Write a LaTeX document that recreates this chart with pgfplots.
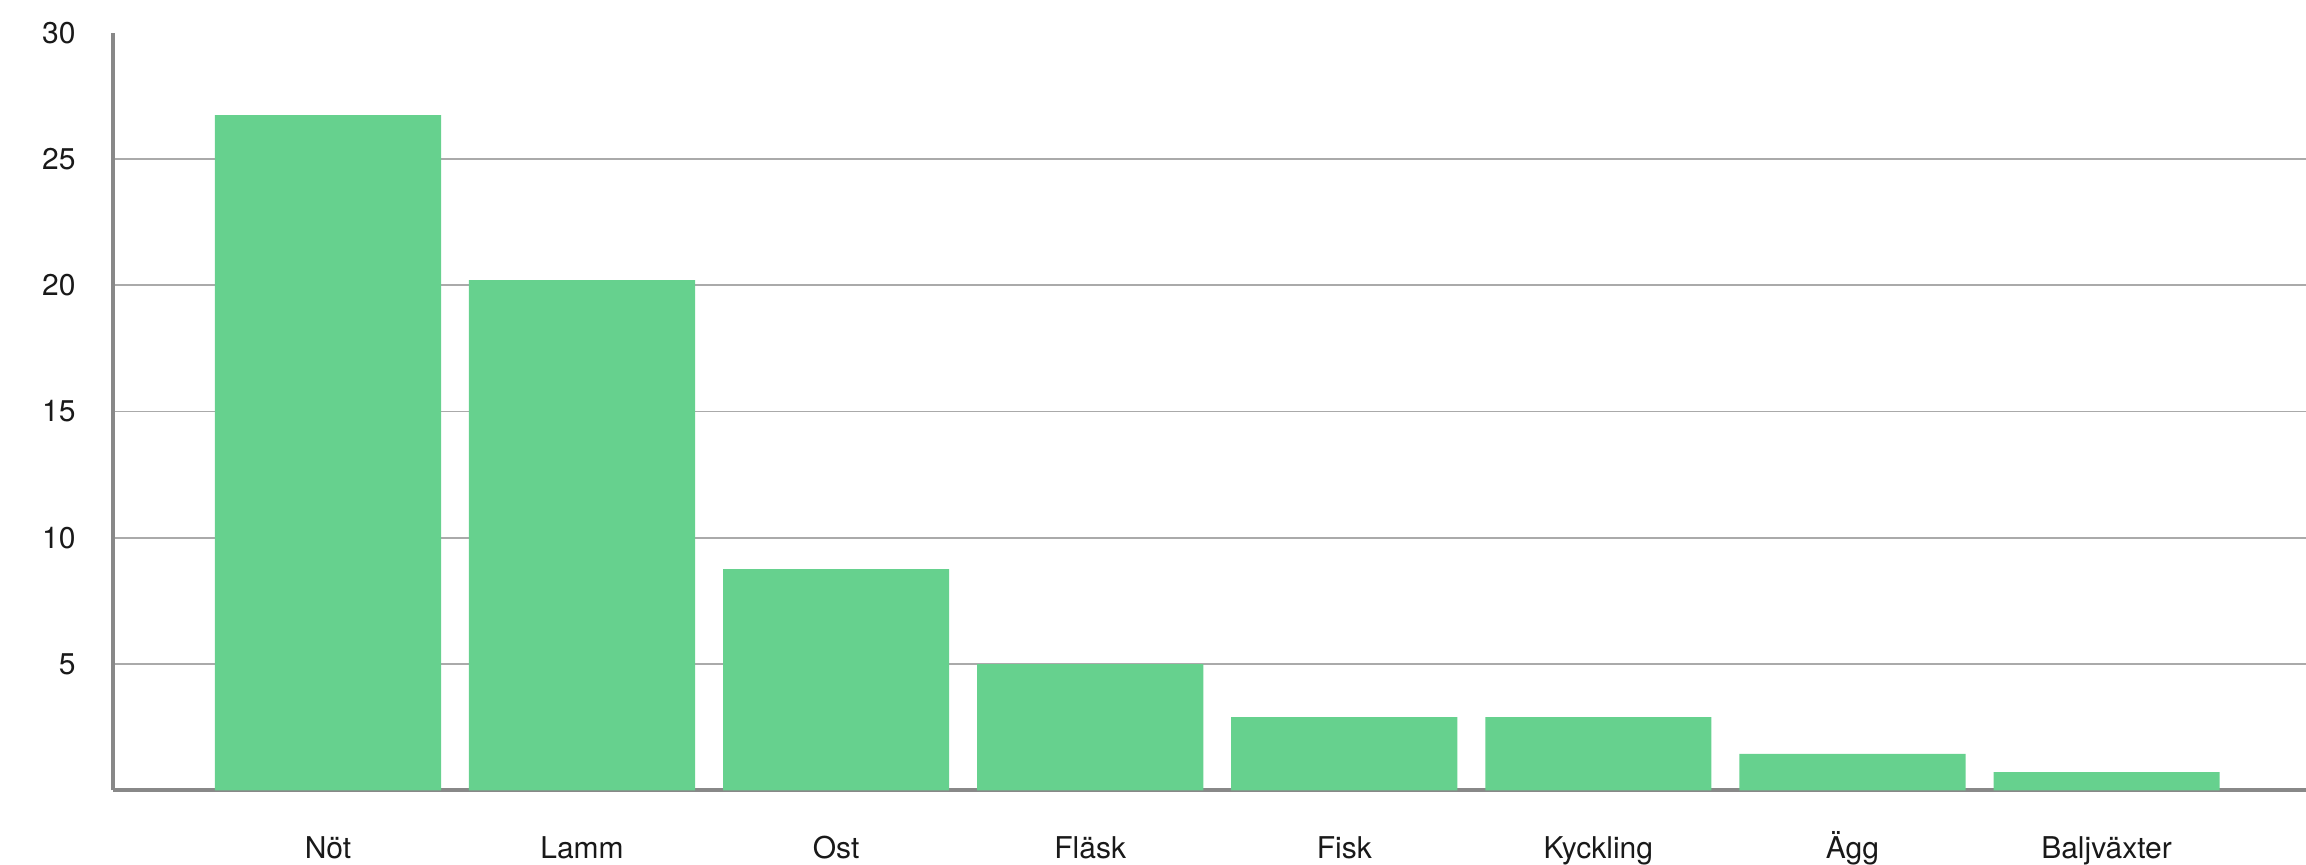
\documentclass[border=0pt]{standalone}
\usepackage{pgfplots}
\pgfplotsset{compat=1.18}
\usepackage{fontspec}
\setmainfont{TeX Gyre Heros}

\definecolor{barfill}{RGB}{102,209,142}
\definecolor{axisgray}{RGB}{136,136,136}
\definecolor{gridgray}{RGB}{170,170,170}

\begin{document}
\begin{tikzpicture}
\begin{axis}[
    scale only axis,
    width=1096.5pt, height=378.75pt,
    xmin=-0.846, xmax=7.785,
    ymin=0, ymax=30,
    axis x line*=bottom,
    axis y line*=left,
    axis line style={axisgray, line width=2pt},
    ybar, bar width=0.89,
    xtick={0,...,7},
    xticklabels={Nöt,Lamm,Ost,Fläsk,Fisk,Kyckling,Ägg,Baljväxter},
    ytick={5,10,15,20,25},
    extra y ticks={30},
    extra y tick style={grid=none},
    ymajorgrids,
    grid style={gridgray, line width=0.8pt},
    major tick length=0pt,
    /pgf/number format/assume math mode=true,
    tick label style={font=\fontsize{15}{18}\selectfont, text=black!90},
    y tick label style={anchor=east, inner sep=0pt, xshift=-18.5pt},
    x tick label style={anchor=base, inner sep=0pt, yshift=-34pt},
    clip=false,
]
\addplot[fill=barfill, draw=none] coordinates {
    (0,26.74) (1,20.2) (2,8.76) (3,5.0) (4,2.9) (5,2.9) (6,1.44) (7,0.72)
};
\coordinate (SW) at (rel axis cs:0,0);
\coordinate (NE) at (rel axis cs:1,1);
\end{axis}
\pgfresetboundingbox
\path ([shift={(-56.5pt,-37pt)}]SW) rectangle ([shift={(0pt,16.4pt)}]NE);
\end{tikzpicture}
\end{document}
